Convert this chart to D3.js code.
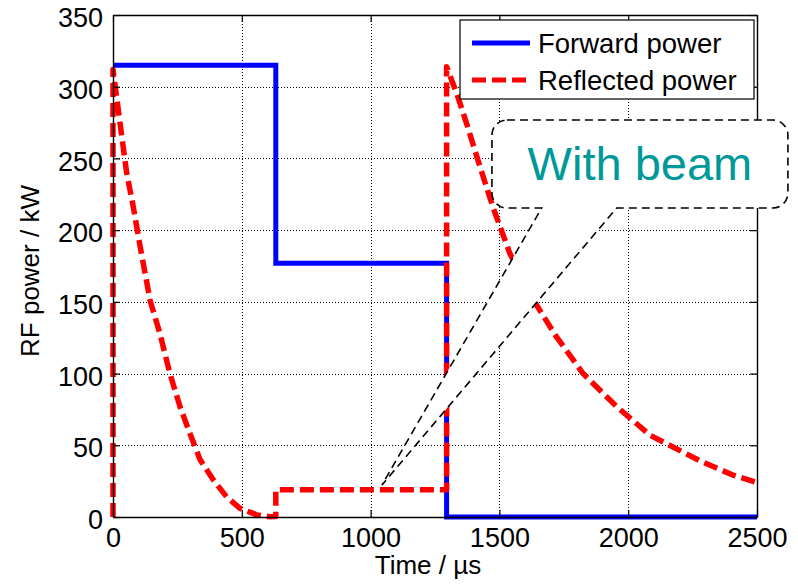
<!DOCTYPE html>
<html>
<head>
<meta charset="utf-8">
<script src="https://cdn.jsdelivr.net/npm/d3@7"></script>
<style>
body { margin: 0; background: #fff; }
text { font-family: "Liberation Sans", Arial, sans-serif; }
</style>
</head>
<body>
<div id="chart"></div>
<script>
// RF power (kW) against time (us)
var fwdTime  = [0, 632, 632, 1295, 1295, 2500];
var fwdPower = [315, 315, 177, 177, 0, 0];

var reflTime  = [0, 0, 27, 53, 79, 105, 144, 182, 221, 260, 299, 338, 389, 441, 493, 558, 609, 632, 632,
                 1295, 1295, 1335, 1375, 1425, 1475, 1540, 1640, 1720, 1825, 1955, 2085, 2150, 2280, 2410, 2500];
var reflPower = [0, 312, 275, 240, 216, 189, 151, 128, 100, 77, 58, 40, 26, 14, 6, 1.5, 0.2, 0.3, 19,
                 19, 314, 295, 273, 244, 216, 184, 149, 126, 100, 77, 57, 51, 39, 29, 24];

var xTicks = [0, 500, 1000, 1500, 2000, 2500];
var yTicks = [0, 50, 100, 150, 200, 250, 300, 350];
var seriesNames = ["Forward power", "Reflected power"];
var calloutText = "With beam";

var W = 798, H = 586;
var margin = {top: 15, left: 113, right: 41, bottom: 69};

var x = d3.scaleLinear().domain([0, 2500]).range([margin.left, W - margin.right]),
    y = d3.scaleLinear().domain([0, 350]).range([H - margin.bottom, margin.top]);

var svg = d3.select("#chart").append("svg")
    .attr("width", W)
    .attr("height", H);

var font = '"Liberation Sans", Arial, sans-serif';

// dotted grid
svg.append("g").selectAll("line").data(xTicks.slice(1, -1)).enter()
  .append("line")
    .attr("x1", d => Math.round(x(d)) + 0.5).attr("x2", d => Math.round(x(d)) + 0.5)
    .attr("y1", y(0)).attr("y2", y(350))
    .attr("stroke", "#000").attr("stroke-width", 1).attr("stroke-dasharray", "1,2");
svg.append("g").selectAll("line").data(yTicks.slice(1, -1)).enter()
  .append("line")
    .attr("y1", d => Math.round(y(d)) + 0.5).attr("y2", d => Math.round(y(d)) + 0.5)
    .attr("x1", x(0)).attr("x2", x(2500))
    .attr("stroke", "#000").attr("stroke-width", 1).attr("stroke-dasharray", "1,2");

// data
var fwd = fwdTime.map((t, i) => [t, fwdPower[i]]);
var refl = reflTime.map((t, i) => [t, reflPower[i]]);

var line = d3.line()
    .x(d => x(d[0]))
    .y(d => y(d[1]));

svg.append("path")
    .datum(fwd)
    .attr("fill", "none")
    .attr("stroke", "#0000ff")
    .attr("stroke-width", 5)
    .attr("d", line);

svg.append("path")
    .datum(refl)
    .attr("fill", "none")
    .attr("stroke", "#ff0000")
    .attr("stroke-width", 5.5)
    .attr("stroke-linejoin", "round")
    .attr("stroke-dasharray", "14,6")
    .attr("d", line);

// axes, ticks pointing in (matlab style)
function styleAxis(g) {
  g.select(".domain").attr("stroke", "#000").attr("stroke-width", 1.4);
  g.selectAll(".tick line").attr("stroke", "#000").attr("stroke-width", 1.2);
  g.attr("font-family", font).attr("font-size", 27);
  g.selectAll(".tick text").attr("fill", "#000");
}

svg.append("g")
    .attr("transform", "translate(0," + y(0) + ")")
    .call(d3.axisBottom(x).tickValues(xTicks).tickFormat(d3.format("d"))
      .tickSizeInner(-7).tickSizeOuter(0).tickPadding(11))
    .call(styleAxis);

svg.append("g")
    .attr("transform", "translate(" + x(0) + ",0)")
    .call(d3.axisLeft(y).tickValues(yTicks).tickFormat(d3.format("d"))
      .tickSizeInner(-7).tickSizeOuter(0).tickPadding(10))
    .call(styleAxis)
    .selectAll(".tick text").attr("dy", "0.43em");

svg.append("g")
    .attr("transform", "translate(0," + y(350) + ")")
    .call(d3.axisTop(x).tickValues(xTicks).tickSizeInner(-7).tickSizeOuter(0).tickFormat(""))
    .call(styleAxis);

svg.append("g")
    .attr("transform", "translate(" + x(2500) + ",0)")
    .call(d3.axisRight(y).tickValues(yTicks).tickSizeInner(-7).tickSizeOuter(0).tickFormat(""))
    .call(styleAxis);

// axis titles
svg.append("text")
    .attr("x", 428)
    .attr("y", 574)
    .attr("text-anchor", "middle")
    .attr("font-size", 26)
    .text("Time / \u00b5s");

svg.append("text")
    .attr("transform", "translate(39," + 271 + ") rotate(-90)")
    .attr("text-anchor", "middle")
    .attr("font-size", 26)
    .text("RF power / kW");

// callout "With beam": rounded box with a wedge pointing at the flat top
var box = {t0: 1471, t1: 2620, p0: 215.4, p1: 276.8}, wedge = {ta: 1664, tb: 1955, tipT: 1044, tipP: 22.3};
var bx0 = x(box.t0), bx1 = x(box.t1), by0 = y(box.p1), by1 = y(box.p0), r = 15;
var p = d3.path();
p.moveTo(bx0 + r, by0);
p.lineTo(bx1 - r, by0);
p.arcTo(bx1, by0, bx1, by0 + r, r);
p.lineTo(bx1, by1 - r);
p.arcTo(bx1, by1, bx1 - r, by1, r);
p.lineTo(x(wedge.tb), by1);
p.lineTo(x(wedge.tipT), y(wedge.tipP));
p.lineTo(x(wedge.ta), by1);
p.lineTo(bx0 + r, by1);
p.arcTo(bx0, by1, bx0, by1 - r, r);
p.lineTo(bx0, by0 + r);
p.arcTo(bx0, by0, bx0 + r, by0, r);
p.closePath();

svg.append("path")
    .attr("d", p.toString())
    .attr("fill", "#fff")
    .attr("stroke", "#000")
    .attr("stroke-width", 1.6)
    .attr("stroke-dasharray", "8,5");

svg.append("text")
    .attr("x", (bx0 + bx1) / 2)
    .attr("y", 180)
    .attr("text-anchor", "middle")
    .attr("font-size", 47)
    .attr("fill", "#009999")
    .text(calloutText);

// legend
var lg = svg.append("g").attr("transform", "translate(460,20)");
lg.append("rect")
    .attr("width", 294).attr("height", 79)
    .attr("fill", "#fff").attr("stroke", "#000").attr("stroke-width", 1.2);

var legendStyle = [{color: "#0000ff", dash: null}, {color: "#ff0000", dash: "14,6"}];
seriesNames.forEach(function(name, i) {
  var cy = 23 + i * 37;
  lg.append("line")
      .attr("x1", 12).attr("x2", 70)
      .attr("y1", cy).attr("y2", cy)
      .attr("stroke", legendStyle[i].color)
      .attr("stroke-width", 5)
      .attr("stroke-dasharray", legendStyle[i].dash);
  lg.append("text")
      .attr("x", 78)
      .attr("y", cy + 10)
      .attr("font-size", 27.5)
      .text(name);
});
</script>
</body>
</html>
